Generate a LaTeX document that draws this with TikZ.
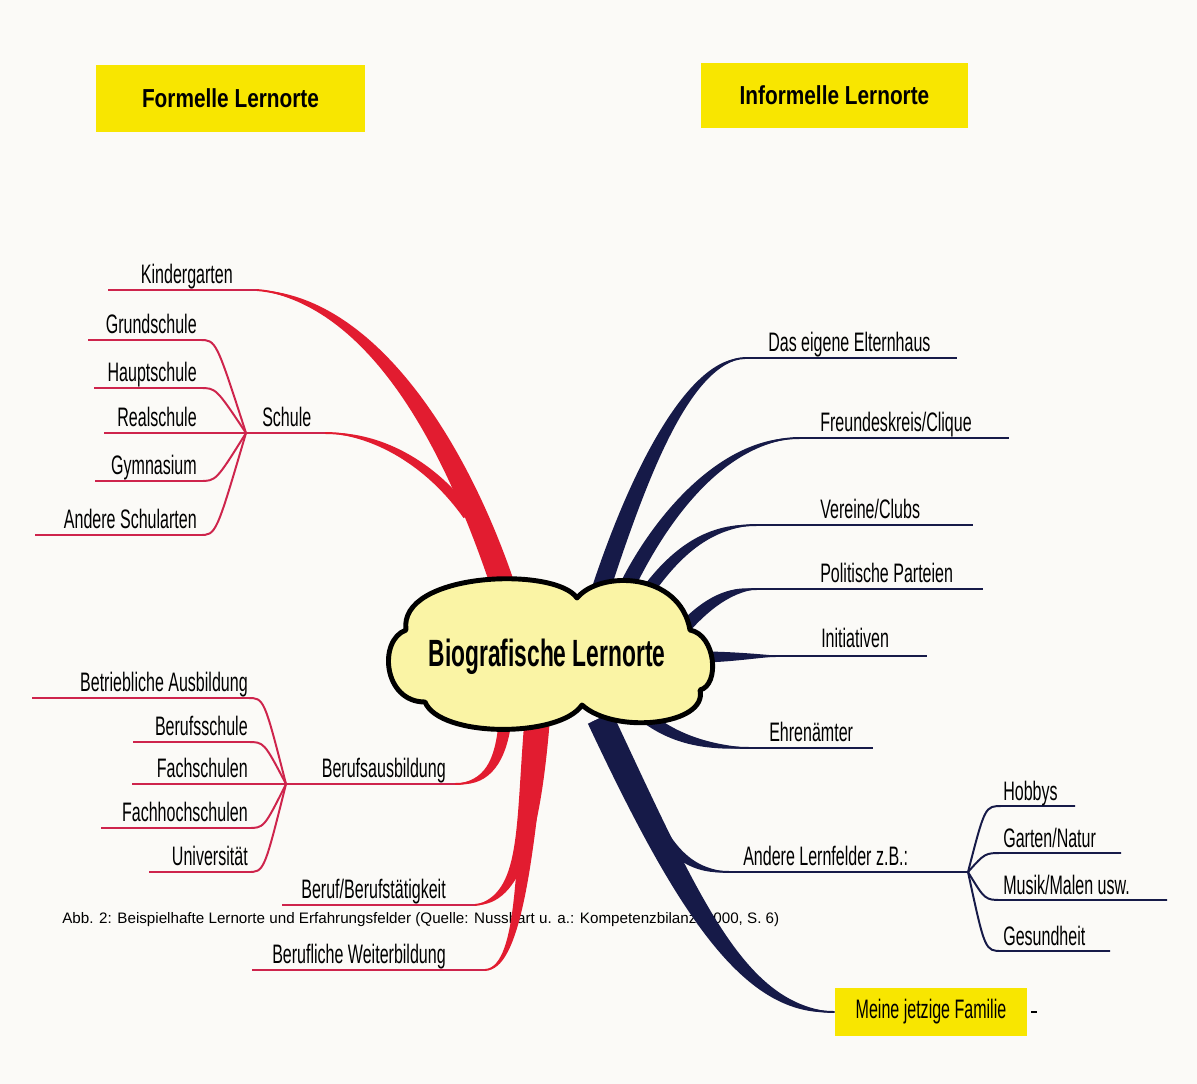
\documentclass[tikz,border=0pt]{standalone}
\usepackage{fontspec}
\setmainfont{Liberation Sans}
\newfontfamily\narrowsans{Liberation Sans}[FakeStretch=0.6]
\newfontfamily\titlesans{Liberation Sans}[FakeStretch=0.8]
\usetikzlibrary{calc}

\definecolor{paper}{RGB}{251,250,247}
\definecolor{branchred}{RGB}{226,28,48}
\definecolor{twigred}{RGB}{206,36,76}
\definecolor{branchnavy}{RGB}{22,26,72}
\definecolor{titleyellow}{RGB}{248,230,0}
\definecolor{cloudyellow}{RGB}{250,244,165}

\newcommand{\lblfont}{\narrowsans\fontsize{19}{22}\selectfont}
% tapered branch: thick end, control 1, control 2, thin end, half width, colour
\newcommand{\taperbranch}[6]{%
  \fill[#6] ($(#1)!#5!90:(#2)$) .. controls ($(#2)!#5!90:(#3)$) and ($(#3)!0.5*#5!90:(#4)$) .. (#4)
    .. controls ($(#3)!0.5*#5!-90:(#4)$) and ($(#2)!#5!-90:(#3)$) .. ($(#1)!#5!-90:(#2)$) -- cycle;
  \draw[#6, line width=1.4pt] (#1) .. controls (#2) and (#3) .. (#4);}

\tikzset{
  twig/.style={draw=twigred, line width=1.4pt},
  navytwig/.style={draw=branchnavy, line width=1.4pt},
  lleft/.style={anchor=base east, inner sep=0pt, font=\lblfont},
  lright/.style={anchor=base west, inner sep=0pt, font=\lblfont},
  titlebox/.style={fill=titleyellow, inner sep=0pt, font=\titlesans\bfseries\fontsize{18.5}{20}\selectfont},
  familybox/.style={fill=titleyellow, inner sep=0pt, minimum width=4.8cm, minimum height=1.2cm, font=\lblfont}
}

\begin{document}
\begin{tikzpicture}[x=0.025cm, y=-0.025cm]
\useasboundingbox (0,0) rectangle (1197,1084);
\fill[paper] (0,0) rectangle (1197,1084);

% headings
\node[titlebox, minimum width=6.725cm, minimum height=1.675cm] (formal) at (230.5,98.5) {Formelle Lernorte};
\node[titlebox, minimum width=6.675cm, minimum height=1.625cm] (informal) at (834.5,95.5) {Informelle Lernorte};

% caption lies under the branches
\node[anchor=base west, inner sep=0pt, font=\fontsize{10.8}{12}\selectfont] (caption) at (62,923)
  {Abb. 2: Beispielhafte Lernorte und Erfahrungsfelder (Quelle: Nusshart u. a.: Kompetenzbilanz, 2000, S. 6)};

% formal side
\coordinate (kg-root) at (505,592);
\coordinate (kg-end) at (257,290);
\taperbranch{kg-root}{455,440}{370,300}{kg-end}{8.5pt}{branchred}
\draw[twig] (kg-end) -- ++(-149,0);
\node[lleft] (kindergarten) at (233,283) {Kindergarten};

\coordinate (sch-root) at (468,515);
\coordinate (sch-end) at (325,433);
\coordinate (sch-hub) at (246,433);
\taperbranch{sch-root}{430,462}{375,433}{sch-end}{3.8pt}{branchred}
\draw[twig] (sch-end) -- (sch-hub);
\node[lright] (schule) at (262,426) {Schule};
\foreach \txt/\yy/\xl [count=\i] in {Grundschule/340/88, Hauptschule/388/94, Realschule/433/104, Gymnasium/481/95, Andere Schularten/535/35}{
  \draw[twig] (\xl,\yy) -- (200,\yy) .. controls (216,\yy) .. (sch-hub);
  \node[lleft] (schule-\i) at (197,{\yy-7}) {\txt};
}

\coordinate (ba-root) at (505,722);
\coordinate (ba-end) at (455,784);
\coordinate (ba-hub) at (286,784);
\taperbranch{ba-root}{500,765}{485,784}{ba-end}{4.5pt}{branchred}
\draw[twig] (ba-end) -- (ba-hub);
\node[lleft] (berufsausbildung) at (446,777) {Berufsausbildung};
\foreach \txt/\yy/\xl [count=\i] in {Betriebliche Ausbildung/698/32, Berufsschule/742/133, Fachschulen/784/132, Fachhochschulen/828/101, Universität/872/149}{
  \draw[twig] (\xl,\yy) -- (248,\yy) .. controls (264,\yy) .. (ba-hub);
  \node[lleft] (beruf-\i) at (248,{\yy-7}) {\txt};
}

\coordinate (bt-root) at (537,722);
\coordinate (bt-end) at (475,905);
\coordinate (wb-end) at (485,970);
\taperbranch{bt-root}{528,830}{522,900}{bt-end}{9pt}{branchred}
\taperbranch{bt-root}{524,860}{520,968}{wb-end}{7pt}{branchred}
\draw[twig] (bt-end) -- ++(-193,0);
\draw[twig] (wb-end) -- ++(-233,0);
\node[lleft] (berufstaetigkeit) at (446,898) {Beruf/Berufstätigkeit};
\node[lleft] (weiterbildung) at (446,963) {Berufliche Weiterbildung};

% informal side
\coordinate (eh-root) at (600,592);
\coordinate (eh-end) at (745,358);
\taperbranch{eh-root}{640,470}{690,360}{eh-end}{6.5pt}{branchnavy}
\draw[navytwig] (eh-end) -- ++(212,0);
\node[lright] (elternhaus) at (768,351) {Das eigene Elternhaus};

\coordinate (fk-root) at (622,597);
\coordinate (fk-end) at (800,438);
\taperbranch{fk-root}{655,525}{720,438}{fk-end}{5.5pt}{branchnavy}
\draw[navytwig] (fk-end) -- ++(209,0);
\node[lright] (freunde) at (820,431) {Freundeskreis/Clique};

\coordinate (vc-root) at (640,602);
\coordinate (vc-end) at (757,525);
\taperbranch{vc-root}{675,550}{710,525}{vc-end}{4.5pt}{branchnavy}
\draw[navytwig] (vc-end) -- ++(216,0);
\node[lright] (vereine) at (820,518) {Vereine/Clubs};

\coordinate (pp-root) at (685,627);
\coordinate (pp-end) at (757,589);
\taperbranch{pp-root}{712,598}{735,589}{pp-end}{4.5pt}{branchnavy}
\draw[navytwig] (pp-end) -- ++(226,0);
\node[lright] (parteien) at (820,582) {Politische Parteien};

\coordinate (in-root) at (695,657);
\coordinate (in-end) at (780,656);
\taperbranch{in-root}{725,657}{750,656}{in-end}{4pt}{branchnavy}
\draw[navytwig] (in-end) -- ++(147,0);
\node[lright] (initiativen) at (821,647) {Initiativen};

\coordinate (ea-root) at (640,712);
\coordinate (ea-end) at (752,748);
\taperbranch{ea-root}{670,738}{705,748}{ea-end}{4.5pt}{branchnavy}
\draw[navytwig] (ea-end) -- ++(121,0);
\node[lright] (ehrenaemter) at (769,741) {Ehrenämter};

\coordinate (al-root) at (600,718);
\coordinate (al-end) at (730,872);
\coordinate (al-hub) at (968,872);
\taperbranch{al-root}{655,835}{675,872}{al-end}{7pt}{branchnavy}
\draw[navytwig] (al-end) -- (al-hub);
\node[lright] (lernfelder) at (743,865) {Andere Lernfelder z.B.:};
\foreach \txt/\yy/\xr [count=\i] in {Hobbys/806/1075, {Garten/Natur}/853/1121, {Musik/Malen usw.}/900/1167, Gesundheit/951/1110}{
  \draw[navytwig] (al-hub) .. controls (985,\yy) .. (1002,\yy) -- (\xr,\yy);
  \node[lright] (feld-\i) at (1003,{\yy-6}) {\txt};
}

\node[familybox] (familie) at (931,1012) {Meine jetzige Familie};
\taperbranch{al-root}{690,910}{745,1012}{familie.west}{9.5pt}{branchnavy}
\draw[line width=1.5pt] ([xshift=0.1cm]familie.east) -- ++(6,0);

% cloud in the middle
\draw[line width=3.5pt, fill=cloudyellow, line join=round] (577,598)
  .. controls (600,570) and (680,572) .. (690,630)
  .. controls (716,635) and (720,685) .. (700,690)
  .. controls (708,725) and (615,735) .. (582,705)
  .. controls (560,738) and (440,738) .. (425,702)
  .. controls (383,702) and (378,640) .. (406,630)
  .. controls (398,572) and (555,566) .. cycle;
\node[font=\narrowsans\bfseries\fontsize{27}{30}\selectfont] (center) at (547,657) {Biografische Lernorte};
\end{tikzpicture}
\end{document}
